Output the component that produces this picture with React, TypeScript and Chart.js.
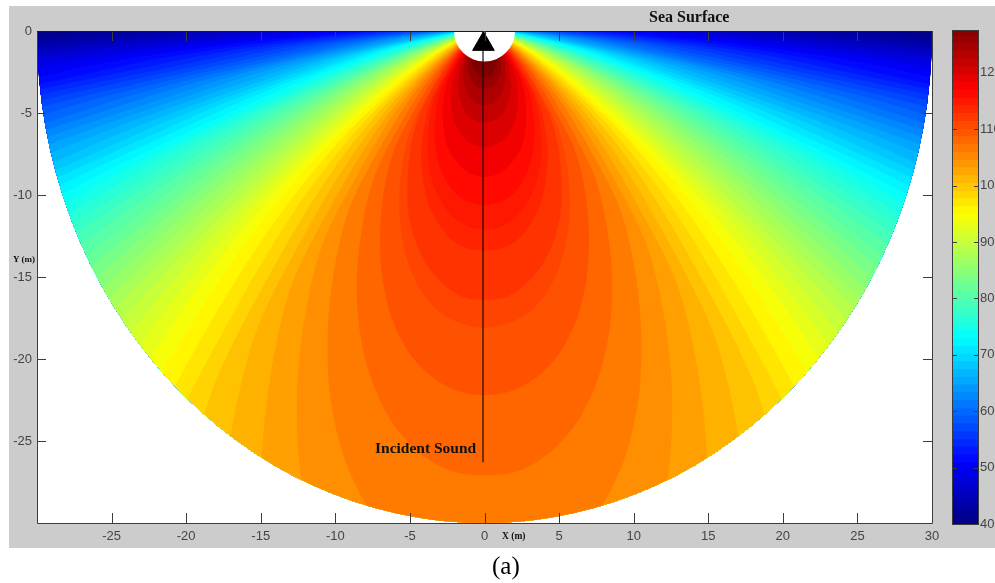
import React, { useEffect, useRef } from "react";
import { Chart, registerables } from "chart.js";

Chart.register(...registerables);

// Look angle from straight down (degrees), column headers of the contour table
const angles = [0, 5, 10, 15, 20, 25, 30, 35, 40, 45, 50, 55, 60, 65, 70, 75, 80, 85, 90];

// Sound level (dB) of each contour, one row per level
const levels = [
  40, 41.4, 42.75, 44.1, 45.5, 46.9, 48.25, 49.6, 51, 52.4, 53.75, 55.1, 56.5, 57.9, 59.25, 60.6, 62, 63.4, 64.75,
  66.1, 67.5, 68.9, 70.25, 71.6, 73, 74.4, 75.75, 77.1, 78.5, 79.9, 81.25, 82.6, 84, 85.4, 86.75, 88.1, 89.5, 90.9,
  92.25, 93.6, 95, 96.5, 98, 99.5, 101, 102.5, 104, 105.5, 107.3, 109.1, 110.8, 111.7, 113.5, 114.4, 115.5, 117, 119,
  121, 123, 125, 127,
];

const F = 60; // beyond the 30 m limit of the field

// Range (m) at which each contour sits, read per level (rows) and angle (columns)
const contourRange = [
  [F, F, F, F, F, F, F, F, F, F, F, F, F, F, F, F, F, F, F],
  [F, F, F, F, F, F, F, F, F, F, F, F, F, F, F, F, F, F, 26.9],
  [F, F, F, F, F, F, F, F, F, F, F, F, F, F, F, F, F, F, 23],
  [F, F, F, F, F, F, F, F, F, F, F, F, F, F, F, F, F, F, 19.7],
  [F, F, F, F, F, F, F, F, F, F, F, F, F, F, F, F, F, 53.6, 16.7],
  [F, F, F, F, F, F, F, F, F, F, F, F, F, F, F, F, F, 45.8, 14.3],
  [F, F, F, F, F, F, F, F, F, F, F, F, F, F, F, F, F, 39.1, 12.2],
  [F, F, F, F, F, F, F, F, F, F, F, F, F, F, F, F, F, 33.4, 10.5],
  [F, F, F, F, F, F, F, F, F, F, F, F, F, F, F, F, F, 28.5, 8.9],
  [F, F, F, F, F, F, F, F, F, F, F, F, F, F, F, F, F, 24.3, 7.6],
  [F, F, F, F, F, F, F, F, F, F, F, F, F, F, F, F, 58.4, 20.8, 6.5],
  [F, F, F, F, F, F, F, F, F, F, F, F, F, F, F, F, 49.7, 17.7, 5.5],
  [F, F, F, F, F, F, F, F, F, F, F, F, F, F, F, F, 42.5, 15.1, 4.7],
  [F, F, F, F, F, F, F, F, F, F, F, F, F, F, F, F, 36.2, 12.9, 4],
  [F, F, F, F, F, F, F, F, F, F, F, F, F, F, F, F, 31, 11, 3.4],
  [F, F, F, F, F, F, F, F, F, F, F, F, F, F, F, F, 26.5, 9.4, 2.9],
  [F, F, F, F, F, F, F, F, F, F, F, F, F, F, F, 52.6, 22.6, 8, 2.5],
  [F, F, F, F, F, F, F, F, F, F, F, F, F, F, F, 45, 19.3, 6.9, 2.1],
  [F, F, F, F, F, F, F, F, F, F, F, F, F, F, F, 38.5, 16.5, 5.9, 1.8],
  [F, F, F, F, F, F, F, F, F, F, F, F, F, F, F, 32.8, 14, 5, 1.6],
  [F, F, F, F, F, F, F, F, F, F, F, F, F, F, F, 27.9, 12, 4.3, 1.3],
  [F, F, F, F, F, F, F, F, F, F, F, F, F, F, 52.2, 23.8, 10.2, 3.6, 1.1],
  [F, F, F, F, F, F, F, F, F, F, F, F, F, F, 44.6, 20.4, 8.7, 3.1, 1],
  [F, F, F, F, F, F, F, F, F, F, F, F, F, F, 38.2, 17.4, 7.5, 2.7, 0.8],
  [F, F, F, F, F, F, F, F, F, F, F, F, F, F, 32.5, 14.8, 6.4, 2.3, 0.7],
  [F, F, F, F, F, F, F, F, F, F, F, F, F, 51.9, 27.7, 12.7, 5.4, 1.9, 0.6],
  [F, F, F, F, F, F, F, F, F, F, F, F, F, 44.3, 23.7, 10.8, 4.6, 1.6, 0.5],
  [F, F, F, F, F, F, F, F, F, F, F, F, F, 37.8, 20.2, 9.2, 4, 1.4, 0.4],
  [F, F, F, F, F, F, F, F, F, F, F, F, 56.3, 32.3, 17.3, 7.9, 3.4, 1.2, 0.4],
  [F, F, F, F, F, F, F, F, F, F, F, F, 48, 27.5, 14.7, 6.7, 2.9, 1, 0.3],
  [F, F, F, F, F, F, F, F, F, F, F, F, 41, 23.5, 12.6, 5.7, 2.5, 0.9, 0.3],
  [F, F, F, F, F, F, F, F, F, F, F, F, 35.1, 20.1, 10.8, 4.9, 2.1, 0.7, 0.2],
  [F, F, F, F, F, F, F, F, F, F, F, 51.7, 29.9, 17.1, 9.2, 4.2, 1.8, 0.6, 0.2],
  [F, F, F, F, F, F, F, F, F, F, F, 44.1, 25.4, 14.6, 7.8, 3.6, 1.5, 0.5, 0.2],
  [F, F, F, F, F, F, F, F, F, F, 58, 37.7, 21.8, 12.5, 6.7, 3, 1.3, 0.5, 0.1],
  [F, F, F, F, F, F, F, F, F, F, 49.6, 32.2, 18.6, 10.7, 5.7, 2.6, 1.1, 0.4, 0.1],
  [F, F, F, F, F, F, F, F, F, F, 42.2, 27.4, 15.8, 9.1, 4.9, 2.2, 0.9, 0.3, 0.1],
  [F, F, F, F, F, F, F, F, F, 52.2, 36, 23.4, 13.5, 7.7, 4.1, 1.9, 0.8, 0.3, 0.1],
  [F, F, F, F, F, F, F, F, F, 44.7, 30.8, 20, 11.6, 6.6, 3.5, 1.6, 0.7, 0.2, 0.1],
  [F, F, F, F, F, F, F, F, 55.7, 38.3, 26.4, 17.2, 9.9, 5.7, 3, 1.4, 0.6, 0.2, 0.1],
  [F, F, F, F, F, F, F, 58.8, 47.3, 32.5, 22.4, 14.6, 8.4, 4.8, 2.6, 1.2, 0.5, 0.2, 0.1],
  [F, F, F, F, F, F, 59.6, 49.6, 39.8, 27.4, 18.9, 12.3, 7.1, 4.1, 2.2, 1, 0.4, 0.2, 0.1],
  [F, F, F, F, F, 58.4, 50.1, 41.7, 33.5, 23, 15.9, 10.3, 6, 3.4, 1.8, 0.8, 0.4, 0.1, 0.1],
  [F, F, F, F, 55.3, 49.1, 42.2, 35.1, 28.2, 19.4, 13.4, 8.7, 5, 2.9, 1.5, 0.7, 0.3, 0.1, 0.1],
  [56.2, 55.7, 53.9, 50.8, 46.5, 41.3, 35.5, 29.5, 23.7, 16.3, 11.2, 7.3, 4.2, 2.4, 1.3, 0.6, 0.3, 0.1, 0.1],
  [47.3, 46.9, 45.4, 42.8, 39.2, 34.8, 29.8, 24.8, 20, 13.7, 9.5, 6.1, 3.5, 2, 1.1, 0.5, 0.2, 0.1, 0.1],
  [39.8, 39.4, 38.2, 36, 33, 29.3, 25.1, 20.9, 16.8, 11.5, 8, 5.2, 3, 1.7, 0.9, 0.4, 0.2, 0.1, 0.1],
  [33.3, 33, 31.9, 30.1, 27.6, 24.5, 21, 17.5, 14.1, 9.7, 6.7, 4.3, 2.5, 1.4, 0.8, 0.3, 0.1, 0.1, 0.1],
  [27.1, 26.9, 26, 24.5, 22.4, 19.9, 17.1, 14.2, 11.4, 7.9, 5.4, 3.5, 2, 1.2, 0.6, 0.3, 0.1, 0.1, 0.1],
  [22.2, 22, 21.3, 20.1, 18.4, 16.3, 14, 11.7, 9.4, 6.4, 4.4, 2.9, 1.7, 1, 0.5, 0.2, 0.1, 0.1, 0.1],
  [18.1, 17.9, 17.4, 16.4, 15, 13.3, 11.4, 9.5, 7.6, 5.2, 3.6, 2.4, 1.4, 0.8, 0.4, 0.2, 0.1, 0.1, 0.1],
  [16.4, 16.3, 15.7, 14.8, 13.6, 12.1, 10.3, 8.6, 6.9, 4.8, 3.3, 2.1, 1.2, 0.7, 0.4, 0.2, 0.1, 0.1, 0.1],
  [13.4, 13.3, 12.9, 12.1, 11.1, 9.8, 8.5, 7, 5.7, 3.9, 2.7, 1.7, 1, 0.6, 0.3, 0.1, 0.1, 0.1, 0.1],
  [12.1, 12, 11.6, 10.9, 10, 8.9, 7.6, 6.4, 5.1, 3.5, 2.4, 1.6, 0.9, 0.5, 0.3, 0.1, 0.1, 0.1, 0.1],
  [10.6, 10.5, 10.2, 9.6, 8.8, 7.8, 6.7, 5.6, 4.5, 3.1, 2.1, 1.4, 0.8, 0.5, 0.2, 0.1, 0.1, 0.1, 0.1],
  [8.9, 8.8, 8.5, 8, 7.4, 6.5, 5.6, 4.7, 3.8, 2.6, 1.8, 1.2, 0.7, 0.4, 0.2, 0.1, 0.1, 0.1, 0.1],
  [7.1, 7, 6.8, 6.4, 5.9, 5.2, 4.5, 3.7, 3, 2.1, 1.4, 0.9, 0.5, 0.3, 0.2, 0.1, 0.1, 0.1, 0.1],
  [5.6, 5.5, 5.4, 5.1, 4.6, 4.1, 3.5, 2.9, 2.4, 1.6, 1.1, 0.7, 0.4, 0.2, 0.1, 0.1, 0.1, 0.1, 0.1],
  [4.5, 4.5, 4.3, 4.1, 3.7, 3.3, 2.8, 2.4, 1.9, 1.3, 0.9, 0.6, 0.3, 0.2, 0.1, 0.1, 0.1, 0.1, 0.1],
  [3.5, 3.5, 3.4, 3.2, 2.9, 2.6, 2.2, 1.8, 1.5, 1, 0.7, 0.5, 0.3, 0.2, 0.1, 0.1, 0.1, 0.1, 0.1],
  [2.8, 2.8, 2.7, 2.5, 2.3, 2.1, 1.8, 1.5, 1.2, 0.8, 0.6, 0.4, 0.2, 0.1, 0.1, 0.1, 0.1, 0.1, 0.1],
];

// Colour bar steps (dB)
const colorbarSteps = [
  40, 41.4, 42.8, 44.1, 45.5, 46.9, 48.3, 49.6, 51, 52.4, 53.8, 55.1, 56.5, 57.9, 59.3, 60.6, 62, 63.4, 64.8, 66.1,
  67.5, 68.9, 70.3, 71.6, 73, 74.4, 75.8, 77.1, 78.5, 79.9, 81.3, 82.6, 84, 85.4, 86.8, 88.1, 89.5, 90.9, 92.3, 93.6,
  95, 96.4, 97.8, 99.1, 100.5, 101.9, 103.3, 104.6, 106, 107.4, 108.8, 110.1, 111.5, 112.9, 114.3, 115.6, 117, 118.4,
  119.8, 121.1, 122.5, 123.9, 125.3, 126.6,
];
const colorbarTop = 127.4;
const colorbarTicks = [40, 50, 60, 70, 80, 90, 100, 110, 120];

const xTicks = [-25, -20, -15, -10, -5, 0, 5, 10, 15, 20, 25, 30];
const yTicks = [0, -5, -10, -15, -20, -25];

// Incident sound ray and source
const rayX = [-0.1, -0.1];
const rayY = [0, -26.3];
const sourceX = [0];
const sourceY = [0];
const arrowX = [-0.07];
const arrowY = [-0.8];

function jet(level: number): string {
  const t = (level - 40) / 88;
  const c = (d: number) => Math.round(255 * Math.max(0, Math.min(1, 1.5 - Math.abs(4 * t - d))));
  return `rgb(${c(3)},${c(2)},${c(1)})`;
}

function contourPolygon(row: number[]) {
  const pts: { x: number; y: number }[] = [{ x: 0, y: 0 }];
  for (let i = angles.length - 1; i >= 0; i--) {
    const a = (angles[i] * Math.PI) / 180;
    pts.push({ x: -row[i] * Math.sin(a), y: -row[i] * Math.cos(a) });
  }
  for (let i = 1; i < angles.length; i++) {
    const a = (angles[i] * Math.PI) / 180;
    pts.push({ x: row[i] * Math.sin(a), y: -row[i] * Math.cos(a) });
  }
  pts.push({ x: 0, y: 0 });
  return pts;
}

const frameColor = "#3c3c3c";
const tickFont = { family: "'Liberation Sans', Arial, sans-serif", size: 13 };

const fieldPlugin = {
  id: "fieldFrame",
  beforeDatasetsDraw(chart: any) {
    const { ctx, chartArea: a, scales } = chart;
    ctx.save();
    ctx.fillStyle = "#ffffff";
    ctx.fillRect(a.left, a.top, a.right - a.left, a.bottom - a.top);
    const cx = scales.x.getPixelForValue(0);
    const cy = scales.y.getPixelForValue(0);
    const rx = scales.x.getPixelForValue(30) - cx;
    const ry = scales.y.getPixelForValue(-30) - cy;
    ctx.beginPath();
    ctx.ellipse(cx, cy, rx, ry, 0, 0, Math.PI * 2);
    ctx.clip();
  },
  afterDatasetsDraw(chart: any) {
    const { ctx, chartArea: a, scales } = chart;
    ctx.restore();
    ctx.save();
    ctx.strokeStyle = frameColor;
    ctx.lineWidth = 1;
    ctx.beginPath();
    ctx.moveTo(a.left + 0.5, a.top);
    ctx.lineTo(a.left + 0.5, a.bottom + 0.5);
    ctx.lineTo(a.right + 0.5, a.bottom + 0.5);
    ctx.lineTo(a.right + 0.5, a.top);
    for (const v of xTicks) {
      if (v === 30) continue;
      const x = Math.round(scales.x.getPixelForValue(v)) + 0.5;
      ctx.moveTo(x, a.bottom);
      ctx.lineTo(x, a.bottom - 10);
      ctx.moveTo(x, a.top);
      ctx.lineTo(x, a.top + 10);
    }
    for (const v of yTicks) {
      if (v === 0) continue;
      const y = Math.round(scales.y.getPixelForValue(v)) + 0.5;
      ctx.moveTo(a.left, y);
      ctx.lineTo(a.left + 9, y);
      ctx.moveTo(a.right, y);
      ctx.lineTo(a.right - 9, y);
    }
    ctx.stroke();
    ctx.strokeStyle = "#14145a";
    ctx.beginPath();
    ctx.moveTo(a.left, a.top + 0.5);
    ctx.lineTo(a.right, a.top + 0.5);
    ctx.stroke();
    ctx.restore();
  },
};

const colorbarPlugin = {
  id: "colorbarFrame",
  afterDatasetsDraw(chart: any) {
    const { ctx, chartArea: a, scales } = chart;
    ctx.save();
    ctx.strokeStyle = frameColor;
    ctx.lineWidth = 1;
    ctx.strokeRect(a.left - 0.5, a.top - 0.5, a.right - a.left + 1, a.bottom - a.top + 1);
    ctx.beginPath();
    for (const v of colorbarTicks) {
      const y = Math.round(scales.y.getPixelForValue(v)) + 0.5;
      ctx.moveTo(a.left, y);
      ctx.lineTo(a.left + 4, y);
      ctx.moveTo(a.right, y);
      ctx.lineTo(a.right - 4, y);
    }
    ctx.stroke();
    ctx.restore();
  },
};

const labelBase: React.CSSProperties = {
  position: "absolute",
  fontFamily: "'Liberation Serif', 'Times New Roman', serif",
  color: "#111",
  whiteSpace: "nowrap",
  lineHeight: 1,
};

export default function App() {
  const fieldRef = useRef<HTMLCanvasElement>(null);
  const barRef = useRef<HTMLCanvasElement>(null);

  useEffect(() => {
    document.body.style.margin = "0";
    document.body.style.overflow = "hidden";

    const contourSets = levels.map((level, i) => ({
      label: `${level} dB`,
      data: contourPolygon(contourRange[i]),
      showLine: true,
      fill: "shape",
      tension: 0.3,
      backgroundColor: jet(i < levels.length - 1 ? (level + levels[i + 1]) / 2 : level + 1),
      borderColor: "transparent",
      borderWidth: 0,
      pointRadius: 0,
      order: 100 - i,
    }));

    const field = new Chart(fieldRef.current as HTMLCanvasElement, {
      type: "scatter",
      data: {
        datasets: [
          ...contourSets,
          {
            label: "source",
            data: sourceX.map((x, i) => ({ x, y: sourceY[i] })),
            backgroundColor: "#ffffff",
            borderColor: "#ffffff",
            pointRadius: 30.5,
            pointBorderWidth: 0,
            order: 5,
          },
          {
            label: "ray",
            data: rayX.map((x, i) => ({ x, y: rayY[i] })),
            showLine: true,
            borderColor: "#1a0a0a",
            borderWidth: 1.2,
            pointRadius: 0,
            order: 3,
          },
          {
            label: "arrow",
            data: arrowX.map((x, i) => ({ x, y: arrowY[i] })),
            pointStyle: "triangle",
            pointRadius: 12.5,
            backgroundColor: "#000000",
            borderColor: "#000000",
            order: 1,
          },
        ] as any,
      },
      options: {
        animation: false,
        responsive: false,
        events: [],
        layout: { padding: { left: 0, right: 63, top: 31, bottom: 0 } },
        plugins: { legend: { display: false }, tooltip: { enabled: false } },
        scales: {
          x: {
            type: "linear",
            min: -30,
            max: 30,
            afterBuildTicks: (s: any) => {
              s.ticks = xTicks.map((value) => ({ value }));
            },
            afterFit: (s: any) => {
              s.height = 60;
            },
            grid: { display: false, drawTicks: false },
            border: { display: false },
            ticks: { font: tickFont, color: "#444", padding: 6, maxRotation: 0, autoSkip: false },
          },
          y: {
            type: "linear",
            min: -30,
            max: 0,
            afterBuildTicks: (s: any) => {
              s.ticks = yTicks.map((value) => ({ value }));
            },
            afterFit: (s: any) => {
              s.width = 37;
            },
            grid: { display: false, drawTicks: false },
            border: { display: false },
            ticks: { font: tickFont, color: "#444", padding: 5, autoSkip: false },
          },
        },
      },
      plugins: [fieldPlugin],
    } as any);

    const bar = new Chart(barRef.current as HTMLCanvasElement, {
      type: "bar",
      data: {
        labels: ["dB"],
        datasets: colorbarSteps.map((lo, i) => ({
          label: `${lo}`,
          data: [[lo, colorbarTop]],
          backgroundColor: jet(lo + 0.7),
          borderWidth: 0,
          grouped: false,
          barPercentage: 1,
          categoryPercentage: 1,
          order: 100 - i,
        })) as any,
      },
      options: {
        animation: false,
        responsive: false,
        events: [],
        layout: { padding: { left: 13, right: 0, top: 31, bottom: 59 } },
        plugins: { legend: { display: false }, tooltip: { enabled: false } },
        scales: {
          x: { display: false },
          y: {
            position: "right",
            min: 40,
            max: colorbarTop,
            afterBuildTicks: (s: any) => {
              s.ticks = colorbarTicks.map((value) => ({ value }));
            },
            afterFit: (s: any) => {
              s.width = 17;
            },
            grid: { display: false, drawTicks: false },
            border: { display: false },
            ticks: { font: tickFont, color: "#444", padding: 2, autoSkip: false },
          },
        },
      },
      plugins: [colorbarPlugin],
    } as any);

    return () => {
      field.destroy();
      bar.destroy();
    };
  }, []);

  return (
    <div style={{ position: "relative", width: 995, height: 583, background: "#fff", overflow: "hidden" }}>
      <div style={{ position: "absolute", left: 9, top: 6, width: 986, height: 542, background: "#cccccc" }} />
      <canvas ref={fieldRef} width={995} height={583} style={{ position: "absolute", left: 0, top: 0 }} />
      <canvas ref={barRef} width={55} height={583} style={{ position: "absolute", left: 940, top: 0 }} />
      <span style={{ ...labelBase, left: 649, top: 9, fontSize: 16, fontWeight: 700 }}>Sea Surface</span>
      <span style={{ ...labelBase, left: 375, top: 440, fontSize: 15.5, fontWeight: 700 }}>Incident Sound</span>
      <span style={{ ...labelBase, left: 13, top: 255, fontSize: 9, fontWeight: 700 }}>Y (m)</span>
      <span style={{ ...labelBase, left: 502, top: 532, fontSize: 9.5, fontWeight: 700 }}>X (m)</span>
      <span style={{ ...labelBase, left: 492, top: 553, fontSize: 25, color: "#000" }}>(a)</span>
    </div>
  );
}
